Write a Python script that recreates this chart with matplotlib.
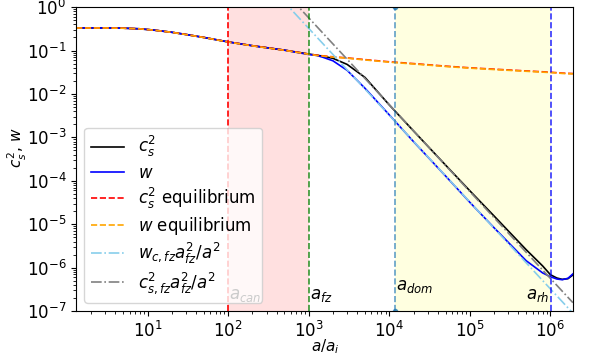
import numpy as np
import matplotlib
matplotlib.use("Agg")
import matplotlib.pyplot as plt

# scale factor a/a_i, shared grid for the curves
a_grid = [1.3, 3.0, 5.0, 8.0, 12.0, 20.0, 30.0, 50.0, 100.0, 200.0, 500.0,
          1000.0, 1260.0, 1500.0, 2000.0, 3000.0, 5000.0, 1.0e4, 2.0e4, 5.0e4,
          1.0e5, 2.0e5, 5.0e5, 8.0e5, 1.0e6, 1.2e6, 1.4e6, 1.65e6, 1.9e6]

cs2 = [0.331, 0.331, 0.327, 0.316, 0.295, 0.263, 0.234, 0.200, 0.158, 0.129,
       0.102, 0.083, 0.078, 0.0741, 0.0661, 0.0479, 0.024, 5.6e-3, 1.41e-3,
       2.3e-4, 5.9e-5, 1.55e-5, 2.6e-6, 1.1e-6, 6.9e-7, 5.8e-7, 5.4e-7,
       5.6e-7, 6.8e-7]

w = [0.331, 0.331, 0.327, 0.316, 0.295, 0.263, 0.234, 0.200, 0.158, 0.129,
     0.102, 0.081, 0.077, 0.070, 0.058, 0.035, 0.0135, 3.3e-3, 8.0e-4,
     1.29e-4, 3.2e-5, 8.3e-6, 1.45e-6, 7.6e-7, 6.2e-7, 5.5e-7, 5.3e-7,
     5.7e-7, 7.2e-7]

cs2_eq = [0.331, 0.331, 0.327, 0.316, 0.295, 0.263, 0.234, 0.200, 0.158, 0.129,
          0.102, 0.083, 0.078, 0.0755, 0.0716, 0.0676, 0.0617, 0.055, 0.050,
          0.0437, 0.040, 0.0372, 0.0339, 0.0324, 0.0316, 0.0309, 0.0302,
          0.0298, 0.0295]

w_eq = [0.330, 0.330, 0.326, 0.315, 0.294, 0.262, 0.233, 0.199, 0.157, 0.128,
        0.101, 0.082, 0.077, 0.0745, 0.0706, 0.0666, 0.0607, 0.054, 0.049,
        0.0429, 0.0393, 0.0365, 0.0333, 0.0318, 0.0311, 0.0304, 0.0297,
        0.0293, 0.029]

# power-law reference lines (end points)
fz_line_a = [300.0, 1.9e6]
wc_fz_line = [3.6, 9.0e-8]
cs_fz_line = [6.3, 1.57e-7]

# characteristic scale factors
a_can = 100.0
a_fz = 1000.0
a_dom = 1.18e4
a_rh = 1.02e6

fig = plt.figure(figsize=(5.9, 3.54), dpi=100)
ax = fig.add_axes([0.129, 0.121, 0.842, 0.859])

ax.axvspan(a_can, a_fz, color='red', alpha=0.12, lw=0)
ax.axvspan(a_dom, a_rh, color='yellow', alpha=0.12, lw=0)

ax.plot(a_grid, cs2, color='k', lw=1.2, label=r'$c_s^2$')
ax.plot(a_grid, w, color='b', lw=1.2, label=r'$w$')
ax.plot(a_grid, cs2_eq, color='red', ls='--', lw=1.2, label=r'$c_s^2$ equilibrium')
ax.plot(a_grid, w_eq, color='orange', ls='--', lw=1.2, label=r'$w$ equilibrium')
ax.plot(fz_line_a, wc_fz_line, color='skyblue', ls='-.', lw=1.2,
        label=r'$w_{c,fz}a_{fz}^2/a^2$')
ax.plot(fz_line_a, cs_fz_line, color='gray', ls='-.', lw=1.2,
        label=r'$c_{s,fz}^2a_{fz}^2/a^2$')

ax.axvline(a_can, color='red', ls='--', lw=1.2)
ax.axvline(a_fz, color='green', ls='--', lw=1.2, alpha=0.8)
ax.axvline(a_dom, color='tab:blue', ls='--', lw=1.2, alpha=0.7,
           marker='o', markersize=3)
ax.axvline(a_rh, color='blue', ls='--', lw=1.2, alpha=0.8)

ax.text(a_can * 1.04, 1.5e-7, r'$a_{can}$', fontsize=12, va='bottom')
ax.text(a_fz * 1.03, 1.5e-7, r'$a_{fz}$', fontsize=12, va='bottom')
ax.text(a_dom * 1.04, 2.4e-7, r'$a_{dom}$', fontsize=12, va='bottom')
ax.text(a_rh * 0.96, 1.5e-7, r'$a_{rh}$', fontsize=12, va='bottom', ha='right')

ax.set_xscale('log')
ax.set_yscale('log')
ax.set_xlim(1.3, 1.9e6)
ax.set_ylim(1e-7, 1)
ax.tick_params(labelsize=12)
ax.set_xlabel(r'$a/a_i$', fontsize=11)
ax.set_ylabel(r'$c_s^2$, $w$', fontsize=11)
ax.xaxis.set_label_coords(0.501, -0.086)
ax.yaxis.set_label_coords(-0.095, 0.536)
ax.legend(loc='lower left', fontsize=12, labelspacing=0.25)

fig.savefig('out.png', dpi=100)
